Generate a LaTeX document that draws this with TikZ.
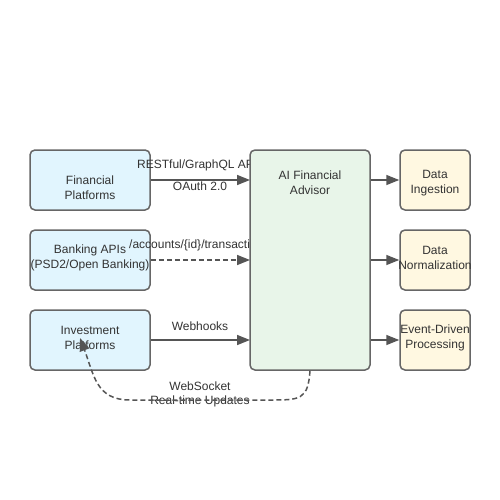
\documentclass[tikz,border=0pt]{standalone}
\usepackage{fontspec}
\setmainfont{Liberation Sans}
\usetikzlibrary{arrows.meta}
\definecolor{bordercol}{HTML}{666666}
\definecolor{linecol}{HTML}{555555}
\definecolor{txt}{HTML}{333333}
\definecolor{blueF}{HTML}{E1F5FE}
\definecolor{greenF}{HTML}{E8F5E9}
\definecolor{yellowF}{HTML}{FFF8E1}
\begin{document}
\begin{tikzpicture}[x=1pt,y=-1pt,
  box/.style={draw=bordercol,line width=1.5pt,rounded corners=5pt,minimum width=120pt,minimum height=60pt,inner sep=0pt},
  srcbox/.style={box,fill=blueF},
  procbox/.style={draw=bordercol,line width=1.5pt,rounded corners=5pt,minimum width=70pt,minimum height=60pt,inner sep=0pt,fill=yellowF},
  lbl/.style={text=txt,font=\fontsize{12pt}{15pt}\selectfont,align=center,inner sep=0pt},
  conn/.style={draw=linecol,line width=1.5pt,-{Triangle[length=13pt,width=10pt]}},
  dconn/.style={conn,dash pattern=on 5pt off 3pt}
]
\useasboundingbox (0,0) rectangle (500,500);
\fill[white] (0,0) rectangle (500,500);
% source boxes
\node[srcbox] (fp) at (90,180) {};
\node[srcbox] (ba) at (90,260) {};
\node[srcbox] (ip) at (90,340) {};
\node[lbl] at (90,188) {Financial\\Platforms};
\node[lbl] at (90,258) {Banking APIs\\(PSD2/Open Banking)};
\node[lbl] (iptxt) at (90,338) {Investment\\Platforms};
% AI box coordinates
\coordinate (aiL1) at (250,180);
\coordinate (aiL2) at (250,260);
\coordinate (aiL3) at (250,340);
% connectors into AI
\draw[conn] (fp.east) -- (aiL1);
\draw[dconn] (ba.east) -- (aiL2);
\draw[conn] (ip.east) -- (aiL3);
\node[lbl,anchor=west] at (137,165) {RESTful/GraphQL API};
\node[lbl] at (200,186) {OAuth 2.0};
\node[lbl,anchor=west] at (129,245) {/accounts/\{id\}/transactions};
\node[lbl] at (200,326) {Webhooks};
% websocket curve
\coordinate (wsend) at (80,338);
\node[lbl] at (200,386) {WebSocket};
\node[lbl] at (200,401) {Real-time Updates};
% AI box on top
\node[box,fill=greenF,minimum height=220pt] (ai) at (310,260) {};
\node[lbl] at (310,183) {AI Financial\\Advisor};
\draw[dconn] (ai.south) .. controls (308,400) and (300,400) .. (270,400) -- (130,400) .. controls (96,400) and (94,375) .. (wsend);
% processing boxes
\node[procbox] (di) at (435,180) {};
\node[procbox] (dn) at (435,260) {};
\node[procbox] (ep) at (435,340) {};
\node[lbl] at (435,183) {Data\\Ingestion};
\node[lbl] at (435,258) {Data\\Normalization};
\node[lbl] at (435,338) {Event-Driven\\Processing};
\draw[conn] (ai.east |- di) -- (di.west);
\draw[conn] (ai.east |- dn) -- (dn.west);
\draw[conn] (ai.east |- ep) -- (ep.west);
\end{tikzpicture}
\end{document}
